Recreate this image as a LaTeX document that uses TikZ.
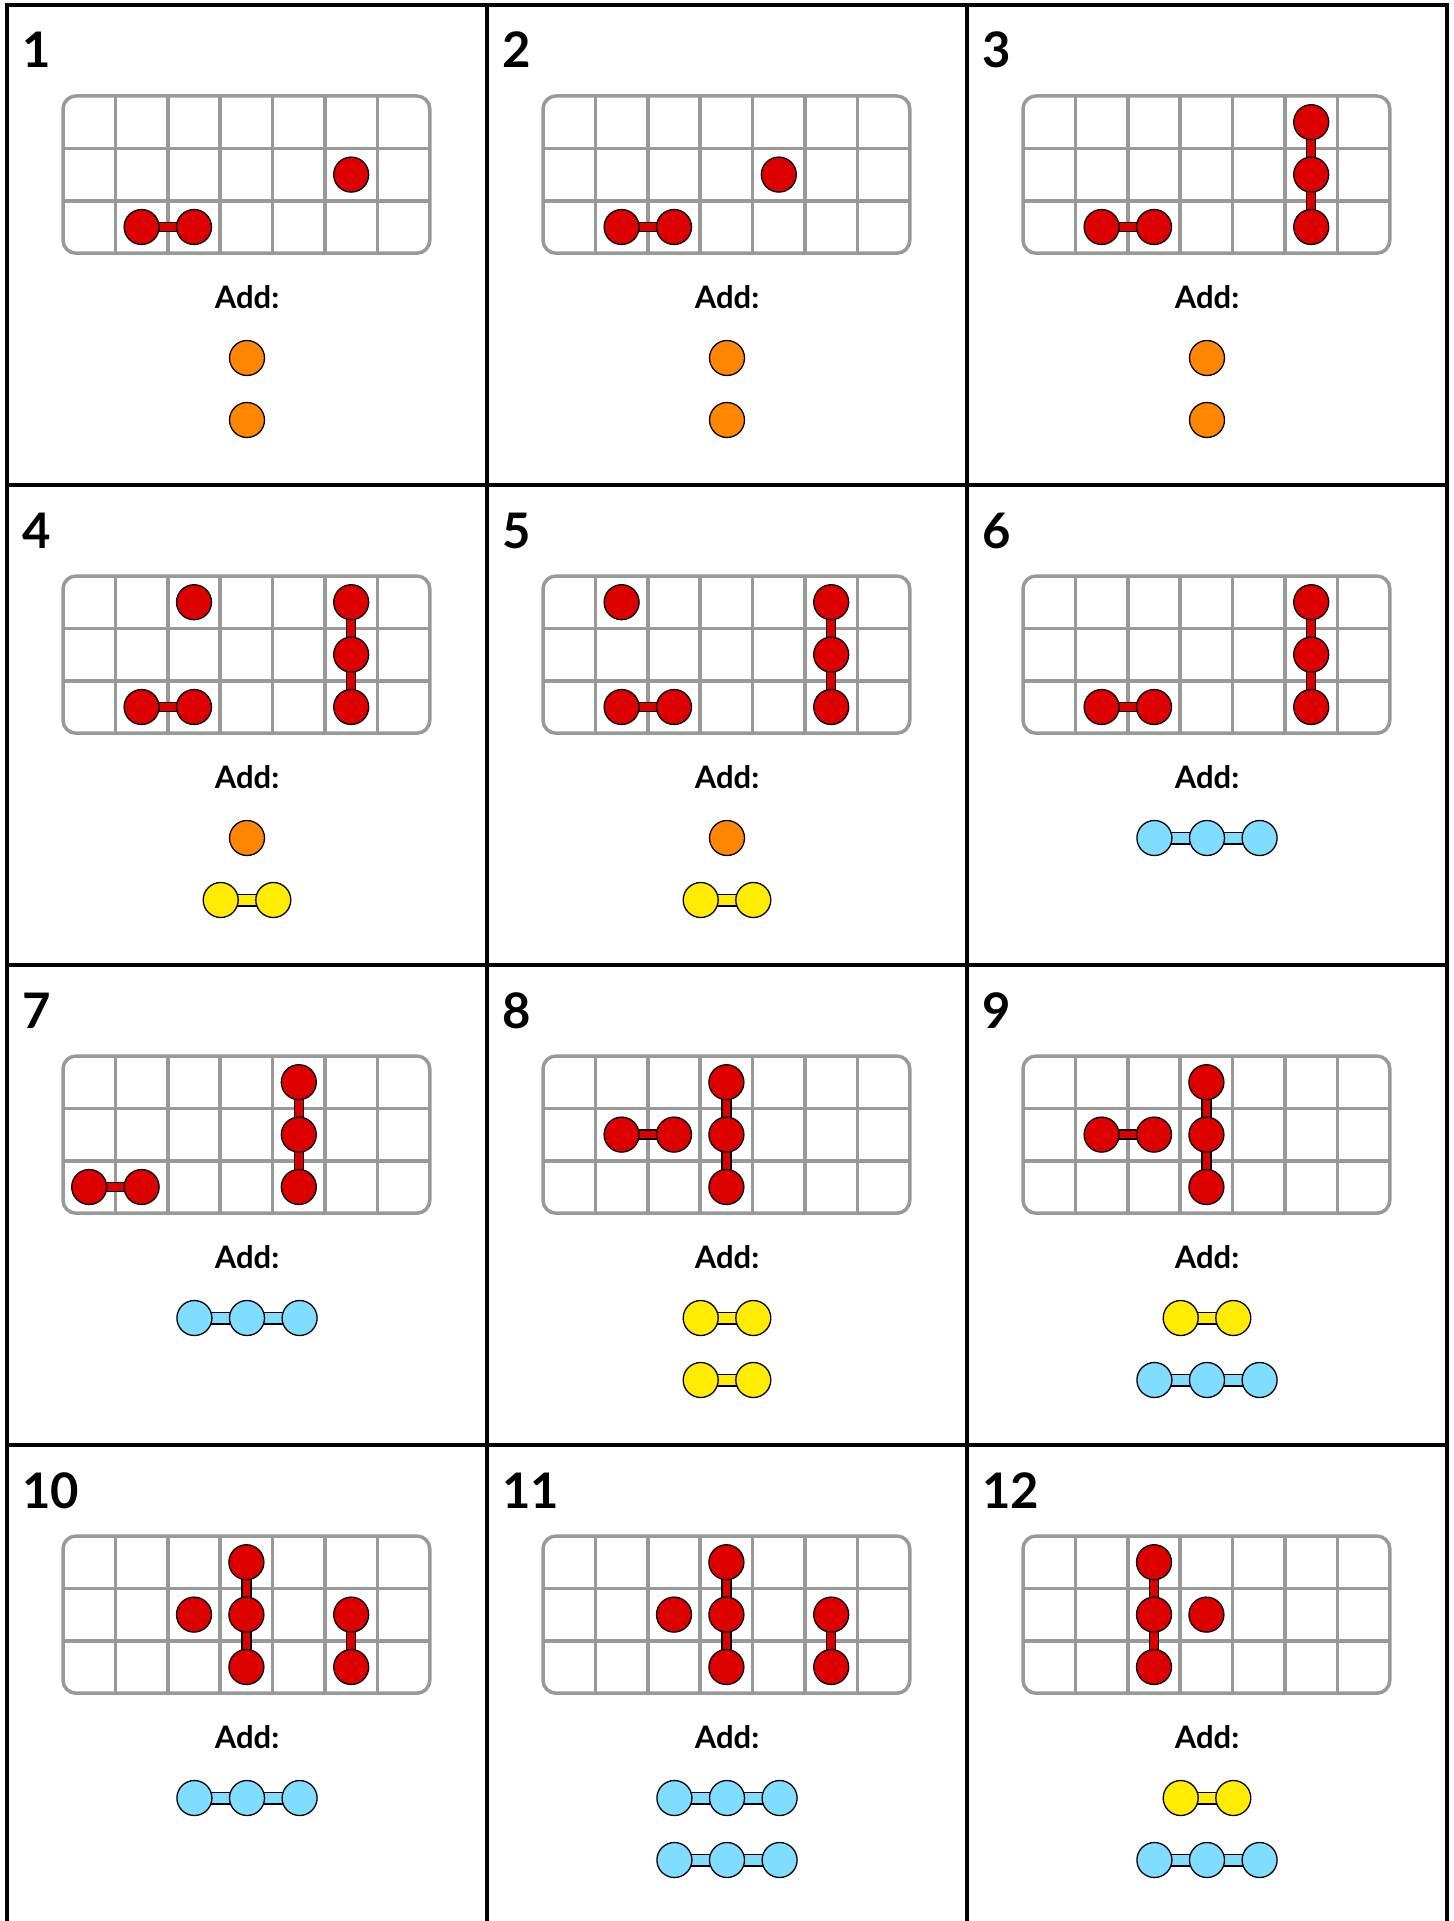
\documentclass[tikz,border=0pt]{standalone}
\usepackage{fontspec}
\setmainfont{Lato}
\definecolor{pegred}{RGB}{221,0,0}
\definecolor{pegorange}{RGB}{255,134,0}
\definecolor{pegyellow}{RGB}{255,236,0}
\definecolor{pegblue}{RGB}{128,221,255}
\definecolor{gridgray}{RGB}{153,153,153}
\pgfdeclarelayer{gridlayer}
\pgfdeclarelayer{barlayer}
\pgfsetlayers{gridlayer,barlayer,main}
\tikzset{
  barcore/.initial=7.5pt,
  barrim/.initial=10.5pt,
  cellframe/.style={draw=black, line width=3.2pt, line cap=rect},
  gridline/.style={draw=gridgray, line width=3.5pt},
  peg/.style={circle, draw=black, fill=#1, line width=1.3pt,
              minimum size=35pt, inner sep=0pt},
  pegbar/.style={draw=#1, line width=\pgfkeysvalueof{/tikz/barcore},
                 preaction={draw=black, line width=\pgfkeysvalueof{/tikz/barrim}}},
  panelnum/.style={font=\fontsize{49}{59}\selectfont\bfseries,
                   anchor=base west, inner sep=0pt},
  addlabel/.style={font=\fontsize{31}{37}\selectfont\bfseries,
                   anchor=base, inner sep=0pt},
  ingrid/.style 2 args={shift={({#1+82.2},{#2+117.2})}, x=52.4pt, y=-52.4pt},
  inadd/.style 2 args={shift={({#1+240},{#2+353})}, x=52.6pt, y=-62pt,
                       barcore=10pt, barrim=13pt},
}
% one panel: number, 7x3 board, "Add:"
\newcommand{\pegpanel}[3]{%
  \begin{scope}[shift={(#1,#2)}]
    \node[panelnum] (num#3) at (15,63) {#3};
    \node[addlabel] (add#3) at (240,303) {Add:};
    \begin{pgfonlayer}{gridlayer}
      \draw[gridline, rounded corners=13pt] (56,91) rectangle (422.8,248.2);
      \foreach \c in {1,...,6}
        \draw[gridline] ({56+52.4*\c},91) -- ({56+52.4*\c},248.2);
      \foreach \r in {1,2}
        \draw[gridline] (56,{91+52.4*\r}) -- (422.8,{91+52.4*\r});
    \end{pgfonlayer}
  \end{scope}}
\newcommand{\pegone}[3]{\node[peg=#1] (#2) at (#3) {};}
\newcommand{\pegtwo}[4]{%
  \node[peg=#1] (#2a) at (#3) {};
  \node[peg=#1] (#2b) at (#4) {};
  \begin{pgfonlayer}{barlayer}
    \draw[pegbar=#1] (#2a.center) -- (#2b.center);
  \end{pgfonlayer}}
\newcommand{\pegthree}[5]{%
  \node[peg=#1] (#2a) at (#3) {};
  \node[peg=#1] (#2b) at (#4) {};
  \node[peg=#1] (#2c) at (#5) {};
  \begin{pgfonlayer}{barlayer}
    \draw[pegbar=#1] (#2a.center) -- (#2b.center) -- (#2c.center);
  \end{pgfonlayer}}

\begin{document}
\begin{tikzpicture}[x=1pt, y=-1pt]
  \useasboundingbox (0,0) rectangle (1453,1921);
  \clip (0,0) rectangle (1453,1921);

  % cell borders
  \draw[cellframe] (7,5) -- (1447,5);
  \foreach \x in {7,487,967,1447}
    \draw[cellframe] (\x,5) -- (\x,1940);
  \foreach \y in {485,965,1445}
    \draw[cellframe] (7,\y) -- (1447,\y);

  % 1
  \pegpanel{7}{5}{1}
  \begin{scope}[ingrid={7}{5}]
    \pegone{pegred}{g1s}{5,1}
    \pegtwo{pegred}{g1p}{1,2}{2,2}
  \end{scope}
  \begin{scope}[inadd={7}{5}]
    \pegone{pegorange}{a1x}{0,0}
    \pegone{pegorange}{a1y}{0,1}
  \end{scope}

  % 2
  \pegpanel{487}{5}{2}
  \begin{scope}[ingrid={487}{5}]
    \pegone{pegred}{g2s}{4,1}
    \pegtwo{pegred}{g2p}{1,2}{2,2}
  \end{scope}
  \begin{scope}[inadd={487}{5}]
    \pegone{pegorange}{a2x}{0,0}
    \pegone{pegorange}{a2y}{0,1}
  \end{scope}

  % 3
  \pegpanel{967}{5}{3}
  \begin{scope}[ingrid={967}{5}]
    \pegthree{pegred}{g3t}{5,0}{5,1}{5,2}
    \pegtwo{pegred}{g3p}{1,2}{2,2}
  \end{scope}
  \begin{scope}[inadd={967}{5}]
    \pegone{pegorange}{a3x}{0,0}
    \pegone{pegorange}{a3y}{0,1}
  \end{scope}

  % 4
  \pegpanel{7}{485}{4}
  \begin{scope}[ingrid={7}{485}]
    \pegone{pegred}{g4s}{2,0}
    \pegtwo{pegred}{g4p}{1,2}{2,2}
    \pegthree{pegred}{g4t}{5,0}{5,1}{5,2}
  \end{scope}
  \begin{scope}[inadd={7}{485}]
    \pegone{pegorange}{a4x}{0,0}
    \pegtwo{pegyellow}{a4y}{-0.5,1}{0.5,1}
  \end{scope}

  % 5
  \pegpanel{487}{485}{5}
  \begin{scope}[ingrid={487}{485}]
    \pegone{pegred}{g5s}{1,0}
    \pegtwo{pegred}{g5p}{1,2}{2,2}
    \pegthree{pegred}{g5t}{5,0}{5,1}{5,2}
  \end{scope}
  \begin{scope}[inadd={487}{485}]
    \pegone{pegorange}{a5x}{0,0}
    \pegtwo{pegyellow}{a5y}{-0.5,1}{0.5,1}
  \end{scope}

  % 6
  \pegpanel{967}{485}{6}
  \begin{scope}[ingrid={967}{485}]
    \pegtwo{pegred}{g6p}{1,2}{2,2}
    \pegthree{pegred}{g6t}{5,0}{5,1}{5,2}
  \end{scope}
  \begin{scope}[inadd={967}{485}]
    \pegthree{pegblue}{a6x}{-1,0}{0,0}{1,0}
  \end{scope}

  % 7
  \pegpanel{7}{965}{7}
  \begin{scope}[ingrid={7}{965}]
    \pegtwo{pegred}{g7p}{0,2}{1,2}
    \pegthree{pegred}{g7t}{4,0}{4,1}{4,2}
  \end{scope}
  \begin{scope}[inadd={7}{965}]
    \pegthree{pegblue}{a7x}{-1,0}{0,0}{1,0}
  \end{scope}

  % 8
  \pegpanel{487}{965}{8}
  \begin{scope}[ingrid={487}{965}]
    \pegtwo{pegred}{g8p}{1,1}{2,1}
    \pegthree{pegred}{g8t}{3,0}{3,1}{3,2}
  \end{scope}
  \begin{scope}[inadd={487}{965}]
    \pegtwo{pegyellow}{a8x}{-0.5,0}{0.5,0}
    \pegtwo{pegyellow}{a8y}{-0.5,1}{0.5,1}
  \end{scope}

  % 9
  \pegpanel{967}{965}{9}
  \begin{scope}[ingrid={967}{965}]
    \pegtwo{pegred}{g9p}{1,1}{2,1}
    \pegthree{pegred}{g9t}{3,0}{3,1}{3,2}
  \end{scope}
  \begin{scope}[inadd={967}{965}]
    \pegtwo{pegyellow}{a9x}{-0.5,0}{0.5,0}
    \pegthree{pegblue}{a9y}{-1,1}{0,1}{1,1}
  \end{scope}

  % 10
  \pegpanel{7}{1445}{10}
  \begin{scope}[ingrid={7}{1445}]
    \pegone{pegred}{g10s}{2,1}
    \pegthree{pegred}{g10t}{3,0}{3,1}{3,2}
    \pegtwo{pegred}{g10p}{5,1}{5,2}
  \end{scope}
  \begin{scope}[inadd={7}{1445}]
    \pegthree{pegblue}{a10x}{-1,0}{0,0}{1,0}
  \end{scope}

  % 11
  \pegpanel{487}{1445}{11}
  \begin{scope}[ingrid={487}{1445}]
    \pegone{pegred}{g11s}{2,1}
    \pegthree{pegred}{g11t}{3,0}{3,1}{3,2}
    \pegtwo{pegred}{g11p}{5,1}{5,2}
  \end{scope}
  \begin{scope}[inadd={487}{1445}]
    \pegthree{pegblue}{a11x}{-1,0}{0,0}{1,0}
    \pegthree{pegblue}{a11y}{-1,1}{0,1}{1,1}
  \end{scope}

  % 12
  \pegpanel{967}{1445}{12}
  \begin{scope}[ingrid={967}{1445}]
    \pegthree{pegred}{g12t}{2,0}{2,1}{2,2}
    \pegone{pegred}{g12s}{3,1}
  \end{scope}
  \begin{scope}[inadd={967}{1445}]
    \pegtwo{pegyellow}{a12x}{-0.5,0}{0.5,0}
    \pegthree{pegblue}{a12y}{-1,1}{0,1}{1,1}
  \end{scope}
\end{tikzpicture}
\end{document}
